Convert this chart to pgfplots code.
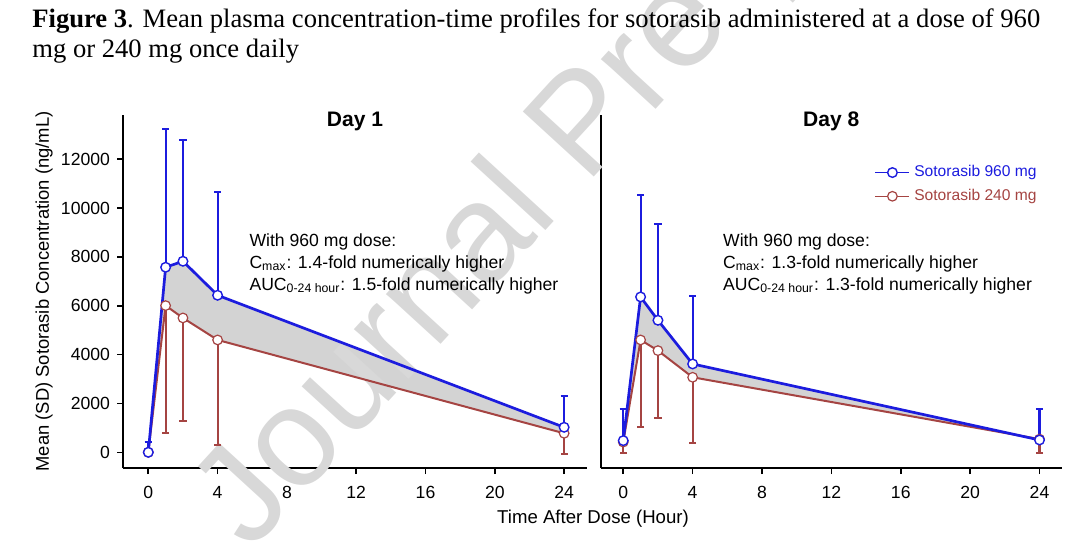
\documentclass[border=0pt]{standalone}
\usepackage{fontspec}
\setmainfont{Liberation Sans}
\newfontfamily\capfont{Liberation Serif}
\usepackage{pgfplots}
\usepackage{pgfplotstable}
\pgfplotsset{compat=1.18}
\usepgfplotslibrary{fillbetween}
\definecolor{cblue}{RGB}{28,28,222}
\definecolor{cred}{RGB}{165,68,66}
\definecolor{cfill}{RGB}{211,211,211}
\definecolor{wm}{RGB}{216,216,216}

\pgfplotstableread{
t y e
0 0 410
1 7577 5652
2 7823 4969
4 6430 4246
24 1024 1297
}\dayoneblue
\pgfplotstableread{
t y e
0 0 0
1 6007 5202
2 5502 4219
4 4601 4301
24 778 846
}\dayonered
\pgfplotstableread{
t y e
0 478 1297
1 6362 4177
2 5406 3946
4 3618 2798
24 505 1270
}\dayeightblue
\pgfplotstableread{
t y e
0 420 434
1 4601 3550
2 4164 2772
4 3072 2703
24 540 554
}\dayeightred

\pgfplotsset{
  panel/.style={
    anchor=south west, scale only axis,
    height=176.5pt,
    ymin=-643, ymax=13812,
    axis x line=bottom, axis y line=left,
    axis line style={-, line width=0.8pt, black},
    xtick={0,4,...,24},
    tick align=outside, major tick length=3pt,
    tick style={line width=0.8pt, black},
    ticklabel style={font=\fontsize{8.8}{10}\selectfont},
    xticklabel style={yshift=-2.5pt},
    scaled y ticks=false,
    /pgf/number format/set thousands separator={},
    /pgf/number format/assume math mode=true,
    title style={at={(axis description cs:0.5,1)}, anchor=center, yshift=-9pt,
      font=\bfseries\fontsize{10.5}{12}\selectfont},
    set layers, clip=false,
  },
  redp/.style={cred, line width=1pt, mark=*, mark size=2.4pt,
    mark options={fill=white, draw=cred, line width=0.6pt},
    legend image post style={line width=0.7pt},
    error bars/.cd, y dir=minus, y explicit,
    error bar style={line width=1.05pt, cred},
    error mark options={rotate=90, mark size=1.8pt, line width=1.05pt, cred}},
  bluep/.style={cblue, line width=1.35pt, mark=*, mark size=2.4pt,
    mark options={fill=white, draw=cblue, line width=0.7pt},
    legend image post style={line width=0.8pt},
    error bars/.cd, y dir=plus, y explicit,
    error bar style={line width=1.05pt, cblue},
    error mark options={rotate=90, mark size=1.8pt, line width=1.05pt, cblue}},
}

\begin{document}
\begin{tikzpicture}
% watermark (behind everything)
\begin{scope}[x=0.5pt,y=0.5pt]
\node[overlay, anchor=base west, rotate=47.5, text=wm, inner sep=0pt,
  font=\fontsize{70}{70}\selectfont] at (250,0) {Journal Pre-proof};
\end{scope}

% Day 1
\begin{axis}[panel, at={(61.5pt,42.5pt)}, width=232pt,
  xmin=-1.46, xmax=25.32,
  ytick={0,2000,...,12000},
  title={Day 1},
  ylabel={Mean (SD) Sotorasib Concentration (ng/mL)},
  ylabel style={at={(axis description cs:-0.170,0.5)}, anchor=center,
    font=\fontsize{9.2}{10}\selectfont},
]
\addplot[name path=R1, redp] table[x=t, y=y, y error=e] {\dayonered};
\addplot[name path=B1, bluep] table[x=t, y=y, y error=e] {\dayoneblue};
\addplot[cfill, forget plot] fill between[of=B1 and R1];
\node[anchor=north west, align=left, inner sep=0pt,
  font=\fontsize{8.8}{11}\selectfont] at (axis cs:5.82,8980)
  {With 960 mg dose:\\C\textsubscript{max}: 1.4-fold numerically higher\\AUC\textsubscript{0-24 hour}: 1.5-fold numerically higher};
\end{axis}

% Day 8
\begin{axis}[panel, at={(300.35pt,42.5pt)}, width=230.5pt,
  xmin=-1.30, xmax=25.28,
  ytick=\empty,
  title={Day 8},
  legend style={at={(0.968,0.881)}, anchor=north east, draw=none, fill=none,
    font=\fontsize{7.8}{9}\selectfont, row sep=0.7pt},
  legend cell align=left, reverse legend,
]
\addplot[name path=R8, redp] table[x=t, y=y, y error=e] {\dayeightred};
\addlegendentry{\textcolor{cred}{Sotorasib 240 mg}}
\addplot[name path=B8, bluep] table[x=t, y=y, y error=e] {\dayeightblue};
\addlegendentry{\textcolor{cblue}{Sotorasib 960 mg}}
\addplot[cfill, forget plot] fill between[of=B8 and R8];
\node[anchor=north west, align=left, inner sep=0pt,
  font=\fontsize{8.8}{11}\selectfont] at (axis cs:5.74,8980)
  {With 960 mg dose:\\C\textsubscript{max}: 1.3-fold numerically higher\\AUC\textsubscript{0-24 hour}: 1.3-fold numerically higher};
\end{axis}

\pgfresetboundingbox
\useasboundingbox (0,0) rectangle (540pt,276.5pt);
\begin{scope}[x=0.5pt,y=0.5pt]
\node[anchor=base west, inner sep=0pt, font=\capfont\fontsize{13.3}{15}\selectfont]
  at (32,525) {\textbf{Figure 3}. Mean plasma concentration-time profiles for sotorasib administered at a dose of 960};
\node[anchor=base west, inner sep=0pt, font=\capfont\fontsize{13.3}{15}\selectfont]
  at (32,495) {mg or 240 mg once daily};
\node[font=\fontsize{9.3}{10}\selectfont] at (593,34) {Time After Dose (Hour)};
\end{scope}
\end{tikzpicture}
\end{document}
